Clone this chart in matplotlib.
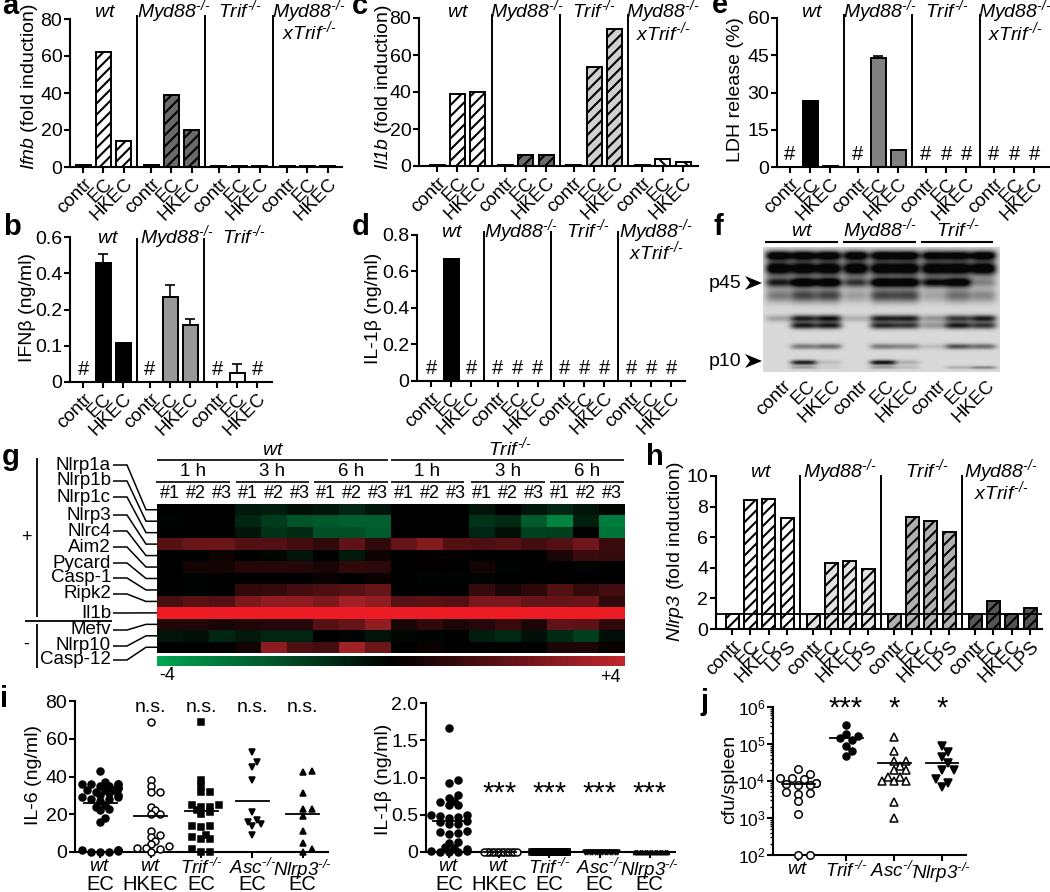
import numpy as np
import matplotlib
matplotlib.use('Agg')
import matplotlib.pyplot as plt
import matplotlib.ticker as mticker
from matplotlib.colors import LinearSegmentedColormap
from matplotlib.patches import Polygon
from matplotlib.lines import Line2D

plt.rcParams['font.family'] = ['Liberation Sans', 'DejaVu Sans']
plt.rcParams['mathtext.fontset'] = 'custom'
plt.rcParams['mathtext.it'] = 'Liberation Sans:italic'
plt.rcParams['mathtext.rm'] = 'Liberation Sans:italic'
plt.rcParams['mathtext.sf'] = 'Liberation Sans'
plt.rcParams['mathtext.bf'] = 'Liberation Sans:bold'
plt.rcParams['hatch.linewidth'] = 1.5
plt.rcParams['axes.unicode_minus'] = False

# ---------- data ----------
CATS3 = ['contr', 'EC', 'HKEC']
CATS4 = ['contr', 'EC', 'HKEC', 'LPS']
KO = r'^{\text{-/-}}'
WT = r'$\mathit{wt}$'
MYD = r'$\mathit{Myd88}' + KO + '$'
TRIF = r'$\mathit{Trif}' + KO + '$'
XTRIF = r'$\mathit{xTrif}' + KO + '$'
ASC = r'$\mathit{Asc}' + KO + '$'
NLRP3 = r'$\mathit{Nlrp3}' + KO + '$'

ifnb_values = [[0.9, 62, 14], [0.9, 39, 20], [0.8, 0.5, 0.5], [0.8, 0.5, 0.5]]
il1b_values = [[0.5, 38.7, 40], [0.5, 6, 5.7], [0.5, 53.3, 74.3], [0.5, 3.7, 2.4]]
ldh_values = [[0, 26.5, 0.5], [0, 44, 6.7], [0, 0, 0], [0, 0, 0]]
ldh_err = [[0, 0, 0], [0, 0.5, 0], [0, 0, 0], [0, 0, 0]]
ldh_hash = [[1, 0, 0], [1, 0, 0], [1, 1, 1], [1, 1, 1]]
ifnbeta_values = [[0, 0.456, 0.108], [0, 0.267, 0.158], [0, 0.025, 0]]
ifnbeta_err = [[0, 0.05, 0], [0, 0.066, 0.017], [0, 0.025, 0]]
ifnbeta_hash = [[1, 0, 0], [1, 0, 0], [1, 0, 1]]
il1beta_values = [[0, 0.668, 0], [0, 0, 0], [0, 0, 0], [0, 0, 0]]
il1beta_hash = [[1, 0, 1], [1, 1, 1], [1, 1, 1], [1, 1, 1]]
nlrp3_values = [[1, 8.4, 8.5, 7.25], [1, 4.3, 4.45, 3.9], [1, 7.3, 7.05, 6.35], [1, 1.85, 1, 1.35]]

genes = ['Nlrp1a', 'Nlrp1b', 'Nlrp1c', 'Nlrp3', 'Nlrc4', 'Aim2', 'Pycard', 'Casp-1',
         'Ripk2', 'Il1b', 'Mefv', 'Nlrp10', 'Casp-12']
heat = [
    [0, 0, 0, -.6, -.7, -.4, -.5, -.9, -.5, 0, 0, 0, -.5, 0, -.5, -.9, -.5, -.2],
    [-.1, 0, 0, -.9, -1.4, -2.0, -2.2, -2.3, -2.3, 0, 0, 0, -1.2, -1.0, -2.2, -3.2, -.8, -3.0],
    [0, 0, 0, -.5, -1.2, -1.0, -1.9, -1.9, -2.2, 0, 0, 0, -.9, -.4, -1.6, -1.5, 0, -2.8],
    [1.8, 2.2, 2.2, 1.7, 1.7, 1.4, 1.0, 2.0, 1.0, 2.1, 2.7, 1.7, 1.6, 1.8, 1.4, 1.7, 2.3, 1.2],
    [0, 0, .3, 0, -.2, -.5, 0, -.6, .3, 0, .1, .1, 0, 0, 0, .6, 1.2, 1.1],
    [0, .4, .4, .8, .8, .8, .5, 1.0, .9, 0, .1, 0, .4, -.1, 0, 0, -.1, 0],
    [0, -.1, 0, 0, 0, 0, .2, 0, .2, 0, -.1, -.1, -.1, 0, 0, 0, 0, 0],
    [0, -.1, 0, 1.0, 1.1, 1.4, 1.6, 1.8, 2.1, 0, 0, 0, 1.1, .5, .9, 1.7, 1.1, 1.4],
    [1.5, 1.9, 1.7, 2.6, 3.0, 3.0, 2.6, 3.3, 3.0, 1.8, 1.9, 1.7, 2.5, 2.5, 2.1, 2.1, 2.2, 1.0],
    [5] * 18,
    [.7, .7, .5, .7, .8, .8, 1.8, 2.1, 3.0, .5, 1.0, .6, .8, 1.2, .6, 2.0, 1.9, 1.0],
    [-.5, -.4, -.9, -.6, -.9, -.9, 0, -.1, -.5, -.2, -.1, 0, -.7, -1.0, -.4, -1.0, -1.5, -.4],
    [0, 0, 0, .4, 2.9, 1.6, 1.4, 3.3, 2.2, 0, .2, 0, 0, 0, 0, .6, .6, .2],
]
times = ['1 h', '3 h', '6 h', '1 h', '3 h', '6 h']
replicates = ['#1', '#2', '#3']

il6_wt = [43, 37, 36, 36, 36, 36, 35, 35, 34, 34, 33, 33, 33, 32, 31, 30, 30, 29, 29, 28, 28, 27,
          25, 24, 23, 22, 18, 16, 1, 1, 1, .5, 0, 0, 0]
il6_hkec = [69, 38, 35, 32, 32, 24, 22, 20, 20, 11, 9, 8, 6, 4, 3, 2, 2, 1.5, 0]
il6_trif = [69, 38, 35, 32, 32, 25, 25, 24, 24, 22, 21, 20, 14, 14, 13, 9, 8, 7, 7, 1.5, 0, 0]
il6_asc = [53, 47.5, 45, 38, 21, 17, 16, 15, 14, 9]
il6_nlrp3 = [43, 42.5, 31, 23, 23, 19, 11, 5, 1.5, 0]
il6_means = [26, 19, 21.5, 27, 20]
il6_notes = ['', 'n.s.', 'n.s.', 'n.s.', 'n.s.']

il1_wt = [1.67, .96, .93, .76, .73, .68, .67, .63, .63, .5, .49, .48, .47, .46, .42, .40, .38, .37,
          .28, .27, .25, .24, .14, .12, .07, .05, .04, .02, .01, 0, 0, 0]
il1_hkec = [0] * 14
il1_trif = [0] * 16
il1_asc = [0] * 14
il1_nlrp3 = [0] * 14
il1_means = [.41, 0, 0, 0, 0]
il1_notes = ['', '***', '***', '***', '***']

dose_top = [WT, WT, TRIF, ASC, NLRP3]
dose_bottom = ['EC', 'HKEC', 'EC', 'EC', 'EC']

cfu_wt = [2.1e4, 1.5e4, 1.2e4, 1.2e4, 1.1e4, 9e3, 9e3, 8.5e3, 8e3, 8e3, 5e3, 4.8e3, 4.5e3, 2.8e3, 1.3e3, 100, 100]
cfu_trif = [3.2e5, 1.9e5, 1.6e5, 1.45e5, 1.26e5, 9e4, 6.6e4, 4.8e4]
cfu_asc = [1.55e5, 6.6e4, 3.5e4, 3.5e4, 2.6e4, 2e4, 2e4, 1.3e4, 1.3e4, 1e4, 1e4, 1e4, 2.7e3, 1e3]
cfu_nlrp3 = [8.7e4, 5.9e4, 4.4e4, 3e4, 2e4, 2e4, 1.1e4, 9e3, 7e3]
cfu_means = [8.5e3, 1.45e5, 3e4, 3e4]
cfu_notes = ['', '***', '*', '*']
cfu_labels = [WT, TRIF, ASC, NLRP3]

blot_rows = [255, 268, 282, 295, 318, 325, 346, 362, 367]
blot_sigma = [3.5, 5, 3.5, 5, 2.5, 2.5, 2, 1.8, 1.2]
blot_lanes = [778, 803, 828, 855, 882, 906, 933, 957, 982]
blot = [
    [.95, .95, .95, .95, .95, .95, .9, .9, .95],
    [1, 1, 1, 1, 1, 1, 1, 1, 1],
    [.7, 1, 1, .6, 1, 1, .8, .95, .3],
    [.35, .55, .55, .22, .55, .55, .2, .4, .3],
    [.2, .7, .75, .15, .7, .7, .25, .6, .7],
    [0, .7, .7, 0, .65, .6, .25, .7, .6],
    [0, .35, .4, 0, .35, .3, .1, .5, .4],
    [0, .7, .1, 0, .75, .15, 0, 0, 0],
    [0, .2, .05, 0, .2, .1, 0, .15, .3],
]

# ---------- layout helpers ----------
W, H = 1050, 892
FS = 14
ROT_FS = 13.5
fig = plt.figure(figsize=(W / 100, H / 100), dpi=100, facecolor='white')


def axpx(l, r, t, b):
    ax = fig.add_axes([l / W, 1 - b / H, (r - l) / W, (b - t) / H])
    ax.patch.set_alpha(0)
    for s in ('top', 'right'):
        ax.spines[s].set_visible(False)
    for s in ('left', 'bottom'):
        ax.spines[s].set_linewidth(1.5)
    ax.tick_params(width=1.5, length=4, labelsize=FS, pad=1.5)
    return ax


def T(x, y, s, **kw):
    kw.setdefault('ha', 'center')
    kw.setdefault('va', 'center')
    kw.setdefault('fontsize', FS)
    return fig.text(x / W, 1 - y / H, s, **kw)


def G(x, y, s):
    # genotype heading, placed by its baseline
    return T(x, y + 6, s, va='baseline')


def L(xs, ys, lw=1.1, color='black'):
    fig.add_artist(Line2D([x / W for x in xs], [1 - y / H for y in ys], lw=lw, color=color,
                          solid_capstyle='butt', solid_joinstyle='miter'))


def letter(x, y, s):
    T(x, y, s, ha='left', va='baseline', fontsize=21, fontweight='bold')


def barpanel(box, x0, pitch, gpitch, values, cats, faces, hatches, yticks, ylabels, sep_top,
             errs=None, hashes=None, scale=None, width=15):
    l, r, t, b = box
    ax = axpx(l, r, t, b)
    if scale is not None:
        ax.set_yscale('function', functions=scale)
    gap = gpitch / pitch
    n = len(cats)
    xs, labs = [], []
    for g, vals in enumerate(values):
        pos = [i + g * gap for i in range(n)]
        xs += pos
        labs += cats
        ax.bar(pos, vals, width=width / pitch, facecolor=faces[g], edgecolor='black',
               hatch=hatches[g], linewidth=1.4, zorder=2)
        if errs is not None:
            for p, v, e in zip(pos, vals, errs[g]):
                if e > 0:
                    ax.errorbar(p, v, yerr=[[0], [e]], color='black', capsize=3.5, lw=1.2,
                                capthick=1.2, zorder=1)
        if hashes is not None:
            for p, h in zip(pos, hashes[g]):
                if h:
                    ax.annotate('#', (p, 0), xytext=(0, 2), textcoords='offset points',
                                ha='center', va='bottom', fontsize=FS + 0.5)
        if g < len(values) - 1:
            s = pos[-1] + (gap - n + 1) / 2
            frac = (b - sep_top) / (b - t)
            ax.plot([s, s], [0, frac], color='black', lw=1.4, clip_on=False,
                    transform=ax.get_xaxis_transform(), solid_capstyle='butt')
    ax.set_xlim((l - x0) / pitch, (r - x0) / pitch)
    ax.set_ylim(yticks[0], yticks[-1])
    ax.set_yticks(yticks, ylabels)
    ax.minorticks_off()
    ax.set_xticks(xs, labs, rotation=45, ha='right', va='top', rotation_mode='anchor', fontsize=ROT_FS)
    ax.tick_params(axis='x', pad=2)
    return ax


def swarm(ypx, d, step, max_w=17):
    order = np.argsort(ypx)
    placed = []
    out = np.zeros(len(ypx))
    for idx in order:
        y = ypx[idx]
        k = 0
        while True:
            c = [0] if k == 0 else [k * step, -k * step]
            hit = None
            for x in c:
                if all((x - px) ** 2 + (y - py) ** 2 >= d ** 2 for px, py in placed):
                    hit = x
                    break
            if hit is None and k * step >= max_w:
                hit = c[0]
            if hit is not None:
                break
            k += 1
        placed.append((hit, y))
        out[idx] = hit
    return out


def dotpanel(box, x0, pitch, groups, means, notes, labels, styles, ypx, yticks, ylabels, note_y,
             note_fs, d=5.5, step=4.5, log=False, zero_d=None, bottom=None):
    l, r, t, b = box
    ax = axpx(l, r, t, b)
    if log:
        ax.set_yscale('log')
    for i, (vals, m, nt, st) in enumerate(zip(groups, means, notes, styles)):
        yy = ypx(np.array(vals, dtype=float))
        dd = d if zero_d is None or i == 0 else zero_d
        off = swarm(yy, dd, step if zero_d is None or i == 0 else zero_d)
        ax.plot(i + off / pitch, vals, ls='none', clip_on=False, zorder=3, **st)
        ax.plot([i - 16.5 / pitch, i + 16.5 / pitch], [m, m], color='black', lw=1.3, zorder=4,
                clip_on=False)
        if nt:
            T(x0 + i * pitch, note_y, nt, fontsize=note_fs if nt.startswith('*') else FS)
        if bottom is not None:
            T(x0 + i * pitch, 884, bottom[i], fontsize=FS + 0.5)
    ax.set_xlim((l - x0) / pitch, (r - x0) / pitch)
    ax.set_ylim(yticks[0], yticks[-1])
    ax.set_yticks(yticks, ylabels)
    ax.set_xticks(range(len(labels)), labels, fontsize=13.5)
    ax.tick_params(axis='x', pad=0.5)
    return ax


W_HATCH = '///'
B_HATCH = '\\\\\\'

# ---------- a ----------
barpanel((70, 342, 19, 167), 83, 20.4, 68, ifnb_values, CATS3, ['white', '#6a6a6a', '#6a6a6a', 'white'],
         [W_HATCH] * 4, [0, 20, 40, 60, 80], ['0', '20', '40', '60', '80'], 15)
T(30, 87, r'$\mathit{Ifnb}$ (fold induction)', rotation=90)
for x, y, s in [(105, 11, WT), (174, 11, MYD), (240, 11, TRIF), (309, 11, MYD), (309, 33, XTRIF)]:
    G(x, y, s)

# ---------- c ----------
barpanel((419, 698, 18, 166), 437, 20.4, 68.4, il1b_values, CATS3, ['white', '#6a6a6a', '#d0d0d0', 'white'],
         [W_HATCH, W_HATCH, W_HATCH, B_HATCH], [0, 20, 40, 60, 80], ['0', '20', '40', '60', '80'], 14)
T(383, 87, r'$\mathit{Il1b}$ (fold induction)', rotation=90)
for x, y, s in [(458, 11, WT), (527, 11, MYD), (594, 11, TRIF), (663, 11, MYD), (663, 34, XTRIF)]:
    G(x, y, s)

# ---------- e ----------
barpanel((777, 1049, 18, 167), 790, 20.2, 68, ldh_values, CATS3, ['black', '#808080', '#808080', '#808080'],
         [''] * 4, [0, 15, 30, 45, 60], ['0', '15', '30', '45', '60'], 14, errs=ldh_err, hashes=ldh_hash)
T(735, 90, 'LDH release (%)', rotation=90)
for x, y, s in [(812, 11, WT), (880, 11, MYD), (947, 11, TRIF), (1015, 11, MYD), (1015, 34, XTRIF)]:
    G(x, y, s)

# ---------- b ----------
_b_v = [0, .1, .2, .4, .6]
_b_p = [0, 1, 2, 3, 4]
bscale = (lambda v: np.interp(v, _b_v, _b_p), lambda p: np.interp(p, _b_p, _b_v))
barpanel((70, 272, 237, 382), 83, 20, 67, ifnbeta_values, CATS3, ['black', '#999999', 'white'],
         [''] * 3, [0, .1, .2, .4, .6], ['0', '0.1', '0.2', '0.4', '0.6'], 238,
         errs=ifnbeta_err, hashes=ifnbeta_hash, scale=bscale)
T(28, 307, 'IFNβ (ng/ml)', rotation=90)
for x, s in [(108, WT), (177, MYD), (244, TRIF)]:
    G(x, 237, s)

# ---------- d ----------
barpanel((417, 685, 235, 381), 431, 20, 66.7, il1beta_values, CATS3, ['black', 'white', 'white', 'white'],
         [''] * 4, [0, .2, .4, .6, .8], ['0', '0.2', '0.4', '0.6', '0.8'], 231, hashes=il1beta_hash)
T(373, 308, 'IL-1β (ng/ml)', rotation=90)
for x, y, s in [(452, 231, WT), (521, 231, MYD), (588, 231, TRIF), (656, 231, MYD), (656, 253, XTRIF)]:
    G(x, y, s)

# ---------- f ----------
ax_f = axpx(763, 999, 247, 372)
for s in ax_f.spines.values():
    s.set_visible(False)
ax_f.set_xticks([])
ax_f.set_yticks([])
yy, xx = np.mgrid[247:372, 763:999]
dark = np.zeros(xx.shape)
for r, row, sg in zip(blot, blot_rows, blot_sigma):
    for v, lane in zip(r, blot_lanes):
        dark += v * np.exp(-((xx - lane) / 13.0) ** 4) * np.exp(-0.5 * ((yy - row) / sg) ** 2) * 1.25
img = 0.85 * (1 - np.clip(dark, 0, 0.97))
ax_f.imshow(img, cmap='gray', vmin=0, vmax=1, aspect='auto', interpolation='bilinear')
for x, s, a, e in [(802, WT, 765, 838), (880, MYD, 843, 916), (958, TRIF, 921, 993)]:
    G(x, 230, s)
    L([a, e], [242, 242], lw=1.5)
for y, s in [(283, 'p45'), (361, 'p10')]:
    T(741, y, s, ha='right')
    fig.add_artist(Polygon([((745) / W, 1 - (y - 7) / H), (762 / W, 1 - y / H), (745 / W, 1 - (y + 7) / H),
                            (750 / W, 1 - y / H)], closed=True, facecolor='black', edgecolor='none',
                           transform=fig.transFigure))
for x, s in zip(blot_lanes, CATS3 * 3):
    T(x + 4, 377, s, ha='right', va='top', rotation=45, rotation_mode='anchor', fontsize=ROT_FS)

# ---------- g ----------
ax_g = axpx(157, 625, 504, 653)
for s in ax_g.spines.values():
    s.set_visible(False)
cm = LinearSegmentedColormap.from_list('gr', [(0, '#00A651'), (4 / 9, '#000000'), (8 / 9, '#C1272D'), (1, '#ED1C24')])
ax_g.imshow(np.array(heat), cmap=cm, vmin=-4, vmax=5, aspect='auto', interpolation='nearest')
ax_g.set_xticks([])
ax_g.set_yticks([])
ax_cb = axpx(157, 625, 656, 666)
for s in ax_cb.spines.values():
    s.set_visible(False)
ax_cb.imshow(np.linspace(-4, 4, 256)[None, :], cmap=cm, vmin=-4, vmax=5, aspect='auto')
ax_cb.set_xticks([])
ax_cb.set_yticks([])
T(167, 676, '-4', fontsize=13)
T(610, 677, '+4', fontsize=13)
label_y = [465, 481, 497, 515, 531, 547, 563, 578, 594, 613, 630, 646, 660]
rh = (653 - 504) / 13
for i, (g, y) in enumerate(zip(genes, label_y)):
    T(111, y, g, ha='right', fontsize=13.5)
    c = 504 + rh * (i + .5)
    L([113, 127, 146, 157], [y, y, c, c], lw=1.1)
L([37, 37], [458, 617], lw=1.3)
L([25, 112], [621, 621], lw=1.3)
L([37, 37], [624, 668], lw=1.3)
T(26, 538, '+', fontsize=13)
T(26, 644, '-', fontsize=13)
G(273, 449, WT)
G(510, 449, TRIF)
L([157, 388], [460, 460], lw=1.2)
L([391, 624], [460, 460], lw=1.2)
for (a, e), tt in zip([(156, 230), (236, 309), (314, 388), (391, 464), (471, 545), (550, 624)], times):
    L([a, e], [482, 482], lw=1.2)
    T((a + e) / 2, 472, tt, fontsize=13.5)
cw = (625 - 157) / 18
for j in range(18):
    T(157 + cw * (j + .5), 493, replicates[j % 3], fontsize=13)

# ---------- h ----------
ax_h = barpanel((716, 1042, 476, 629), 732, 18.4, 81, nlrp3_values, CATS4, ['white', '#e2e2e2', '#b0b0b0', '#555555'],
                [W_HATCH] * 4, [0, 2, 4, 6, 8, 10], ['0', '2', '4', '6', '8', '10'], 475, width=13)
ax_h.axhline(1, color='black', lw=1.3, zorder=5)
T(676, 552, r'$\mathit{Nlrp3}$ (fold induction)', rotation=90)
for x, y, s in [(761, 471, WT), (840, 471, MYD), (927, 471, TRIF), (1001, 471, MYD), (1001, 493, XTRIF)]:
    G(x, y, s)

# ---------- i ----------
mk = lambda m, filled=True, ms=5: dict(marker=m, ms=ms, mfc='black' if filled else 'white', mec='black', mew=1.1)
sty = [mk('o'), mk('o', False), mk('s', ms=4.4), mk('v', ms=5), mk('^', ms=5)]
ax_i1 = dotpanel((75, 328, 701, 852), 100, 50.7, [il6_wt, il6_hkec, il6_trif, il6_asc, il6_nlrp3], il6_means,
                 il6_notes, dose_top, sty, lambda v: v * (151 / 80), [0, 20, 40, 60, 80],
                 ['0', '20', '40', '60', '80'], 708, 20, bottom=dose_bottom)
T(33, 775, 'IL-6 (ng/ml)', rotation=90)
sty2 = [mk('o'), mk('o', False), mk('s', ms=4.4), mk('v', ms=3.5), mk('^', ms=3)]
ax_i2 = dotpanel((426, 675, 703, 852), 449, 50.2, [il1_wt, il1_hkec, il1_trif, il1_asc, il1_nlrp3], il1_means,
                 il1_notes, dose_top, sty2, lambda v: v * (149 / 2), [0, .5, 1, 1.5, 2],
                 ['0', '0.5', '1.0', '1.5', '2.0'], 794, 21, zero_d=2.5, bottom=dose_bottom)
T(383, 779, 'IL-1β (ng/ml)', rotation=90)

# ---------- j ----------
sty3 = [mk('o', False, 5.4), mk('o'), mk('^', False, 5.4), mk('v', ms=5.4)]
ax_j = dotpanel((773, 966, 707, 855), 798, 48, [cfu_wt, cfu_trif, cfu_asc, cfu_nlrp3], cfu_means, cfu_notes,
                cfu_labels, sty3, lambda v: np.log10(v) * 37, [1e2, 1e3, 1e4, 1e5, 1e6],
                [r'$\mathsf{10^{2}}$', r'$\mathsf{10^{3}}$', r'$\mathsf{10^{4}}$', r'$\mathsf{10^{5}}$',
                 r'$\mathsf{10^{6}}$'], 709, 21, d=7, step=6, log=True)
ax_j.yaxis.set_minor_locator(mticker.LogLocator(base=10, subs=np.arange(2, 10), numticks=12))
ax_j.yaxis.set_minor_formatter(mticker.NullFormatter())
ax_j.tick_params(axis='y', which='minor', width=1.0, length=2.5)
ax_j.tick_params(axis='y', which='major', labelsize=12.5)
T(730, 779, 'cfu/spleen', rotation=90)

# ---------- panel letters ----------
for x, y, s in [(2, 14, 'a'), (3, 235, 'b'), (352, 14, 'c'), (352, 235, 'd'), (712, 13, 'e'), (713, 235, 'f'),
                (2, 465, 'g'), (646, 465, 'h'), (0, 707, 'i'), (700, 710, 'j')]:
    letter(x, y, s)

fig.savefig('out.png', dpi=100)
